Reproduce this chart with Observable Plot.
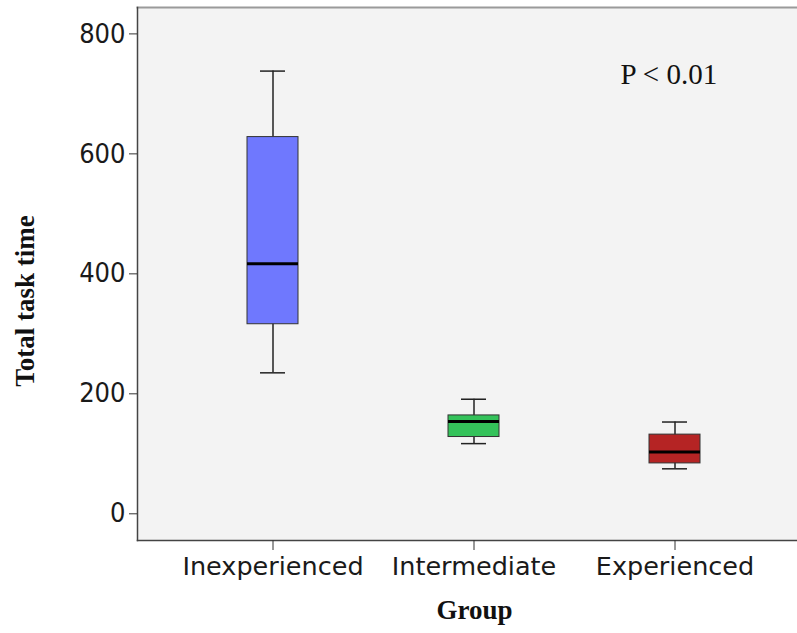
<!DOCTYPE html>
<html>
<head>
<meta charset="utf-8">
<script src="https://cdn.jsdelivr.net/npm/d3@7"></script>
<script src="https://cdn.jsdelivr.net/npm/@observablehq/plot@0.6"></script>
<style>
  html, body { margin: 0; padding: 0; background: #fff; overflow: hidden; }
</style>
</head>
<body>
<div id="chart"></div>
<script>
const groups = ["Inexperienced", "Intermediate", "Experienced"];
const whiskerLow = [235, 117, 75];
const q1 = [316, 128, 84];
const median = [417, 154, 103];
const q3 = [628, 164, 132];
const whiskerHigh = [738, 191, 153];
const colors = ["#6f78fe", "#34c25a", "#b52424"];
const yTicks = [0, 200, 400, 600, 800];
const xTitle = "Group";
const yTitle = "Total task time";
const note = "P < 0.01";

const rows = groups.map((g, i) => ({
  group: g, lo: whiskerLow[i], q1: q1[i], med: median[i], q3: q3[i], hi: whiskerHigh[i], color: colors[i]
}));

const sansC = "'DejaVu Sans Condensed', 'DejaVu Sans', sans-serif";
const sans = "'DejaVu Sans', sans-serif";
const serif = "'Liberation Serif', 'Times New Roman', serif";

const chart = Plot.plot({
  width: 797,
  height: 633,
  marginLeft: 137,
  marginRight: 0,
  marginTop: 7,
  marginBottom: 93,
  style: { fontFamily: sansC, background: "#fff", overflow: "hidden" },
  x: { domain: groups, range: [137, 810], paddingInner: 0.747, paddingOuter: 0.541, align: 0.5, label: null },
  y: { domain: [-44.5, 844], label: null },
  marks: [
    Plot.frame({ fill: "#f3f3f3", stroke: null }),
    Plot.frame({ anchor: "top", stroke: "#9a9a9a", strokeWidth: 2 }),
    Plot.frame({ anchor: "left", stroke: "#444", strokeWidth: 1.5 }),
    Plot.frame({ anchor: "bottom", stroke: "#444", strokeWidth: 1.5 }),
    Plot.ruleX(rows, { x: "group", y1: "lo", y2: "hi", stroke: "#222", strokeWidth: 1.5 }),
    Plot.tickY(rows, { x: "group", y: "lo", stroke: "#222", strokeWidth: 1.5, insetLeft: 13, insetRight: 13 }),
    Plot.tickY(rows, { x: "group", y: "hi", stroke: "#222", strokeWidth: 1.5, insetLeft: 13, insetRight: 13 }),
    Plot.barY(rows, { x: "group", y1: "q1", y2: "q3", fill: "color", stroke: "#333", strokeWidth: 1 }),
    Plot.tickY(rows, { x: "group", y: "med", stroke: "#000", strokeWidth: 3 }),
    Plot.axisY({ ticks: yTicks, tickSize: 8, tickPadding: 4, fontSize: 27, stroke: "#333", color: "#1a1a1a", tickFormat: d => String(d), label: null }),
    Plot.axisX({ tickSize: 10, tickPadding: 6, fontSize: 25.5, fontFamily: sans, stroke: "#333", color: "#1a1a1a", label: null }),
    Plot.text([note], { frameAnchor: "top-left", dx: 483, dy: 56, text: d => d, fontFamily: serif, fontSize: 29, fill: "#111", textAnchor: "start" }),
    Plot.text([xTitle], { frameAnchor: "bottom", dx: 7, dy: 78, text: d => d, fontFamily: serif, fontWeight: "bold", fontSize: 27, fill: "#111" }),
    Plot.text([yTitle], { frameAnchor: "left", dx: -112, dy: 27, rotate: -90, textAnchor: "middle", text: d => d, fontFamily: serif, fontWeight: "bold", fontSize: 27, fill: "#111" })
  ]
});
document.getElementById("chart").appendChild(chart);
</script>
</body>
</html>
